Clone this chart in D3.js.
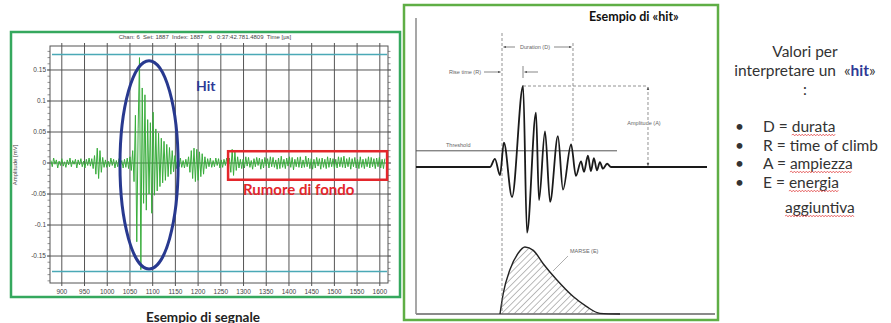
<!DOCTYPE html>
<html><head><meta charset="utf-8">
<script src="https://cdn.jsdelivr.net/npm/d3@7"></script>
<style>body{margin:0;background:#fff;} svg{display:block;}</style>
</head><body>
<svg id="c" width="891" height="323"></svg>
<script>
// ================= DATA =================
// Left chart: acoustic emission signal, sampled every 3 µs from 876 µs, amplitude in 0.001 mV
const signalStart = 876;
const signalStep = 3;
const signal = [
  4,-6,8,-2,5,-8,3,-4,7,-5,          // 876-903
  2,-7,5,-3,8,-6,4,-2,6,-8,          // 906-933
  5,-3,7,-6,3,-8,6,-4,8,-5,          // 936-963
  7,-9,12,-18,24,-25,20,-15,9,-7,    // 966-993
  5,-7,3,-6,8,-4,6,-8,4,-6,          // 996-1023
  7,-5,4,-8,6,-7,8,-9,10,-12,        // 1026-1053
  20,-30,77,-127,55,170,-172,121,-65,110, // 1056-1083
  -76,70,-50,65,-81,82,-52,55,-45,48,     // 1086-1113
  -38,40,-32,35,-28,30,-22,25,-18,20,     // 1116-1143
  -14,12,-9,7,-6,8,-7,4,-8,6,        // 1146-1173
  -6,10,-15,20,-25,24,-30,22,-28,18, // 1176-1203
  -22,15,-18,10,-9,7,-6,8,-7,4,      // 1206-1233
  -6,8,-4,7,-8,5,-7,6,-4,8,          // 1236-1263
  -6,8,-15,22,-20,18,-12,10,-8,6,    // 1266-1293
  -9,6,-8,10,-5,9,-7,4,-10,7,        // 1296-1323
  -6,9,-4,8,-10,6,-8,9,-5,7,         // 1326-1353
  -8,10,-6,9,-7,5,-10,8,-9,11,       // 1356-1383
  -7,6,-9,8,-5,10,-7,9,-11,6,        // 1386-1413
  -6,9,-7,10,-8,5,-7,11,-6,8,        // 1416-1443
  -9,7,-10,6,-8,9,-5,7,-10,8,        // 1446-1473
  -7,6,-9,10,-7,8,-6,7,-9,6,         // 1476-1503
  -8,10,-6,9,-7,11,-8,7,-6,9,        // 1506-1533
  -10,7,-6,9,-8,6,-9,10,-7,6,        // 1536-1563
  -9,7,-6,10,-8,9,-6,7,-9,8,         // 1566-1593
  -6,9,-8,6,-9,7                     // 1596-1611
];
const xTicks = [900,950,1000,1050,1100,1150,1200,1250,1300,1350,1400,1450,1500,1550,1600];
const yTicks = [-150,-100,-50,0,50,100,150];
const yTickLabels = ["-0.15","-0.1","-0.05","0","0.05","0.1","0.15"];
const thresholdLevels = [175,-175];
const hitRegion = {t0:1028, t1:1156, a0:-171, a1:165};
const noiseRegion = {t0:1266, t1:1616, a0:-27, a1:19};
const chartTitle = "Chan: 6  Set: 1887  Index: 1887   0   0:37:42.781.4809  Time [µs]";
const yAxisTitle = "Amplitude [mV]";

// Right diagram: idealised hit waveform (time 0-100, amplitude relative to the peak)
const waveT = [0,24.7,26.3,28.0,29.3,32.0,35.7,37.0,40.0,41.0,43.0,44.7,47.3,49.0,51.7,53.3,55.0,56.0,57.3,58.3,59.3,60.3,61.3,62.3,63.7,65.0,97.0];
const waveA = [0,0,0.10,-0.10,0.30,-0.37,1.00,-0.81,0.67,-0.41,0.44,-0.43,0.38,-0.28,0.28,-0.11,0.07,-0.06,0.14,-0.05,0.11,-0.04,0.06,-0.02,0.04,0,0];
const thresholdA = 0.2;
const thresholdEndT = 67;
const durationT = [28.67, 52.33];
const peakT = 35.67;
const amplitudeMarkT = 77.33;
// MARSE energy envelope
const marseT = [28.0,29.1,31.3,34.1,36.3,39.1,42.4,46.9,52.4,56.9,61.3,68.0];
const marseE = [0,0.31,0.66,0.91,1.0,0.95,0.75,0.51,0.26,0.11,0.01,0];

const bulletLines = [
  {key:"D = ", word:"durata", wavy:true},
  {key:"R = ", word:"time of climb", wavy:false},
  {key:"A = ", word:"ampiezza", wavy:true},
  {key:"E = ", word:"energia", wavy:true}
];

// ================= DRAW =================
const svg = d3.select('#c');
const defs = svg.append('defs');
defs.append('marker').attr('id','arr').attr('viewBox','0 0 10 10').attr('refX',9).attr('refY',5)
  .attr('markerWidth',4).attr('markerHeight',4).attr('orient','auto-start-reverse')
  .append('path').attr('d','M0,1 L10,5 L0,9 z').attr('fill','#555');
const pat = defs.append('pattern').attr('id','hatch').attr('patternUnits','userSpaceOnUse')
  .attr('width',4.5).attr('height',4.5).attr('patternTransform','rotate(45)');
pat.append('line').attr('x1',0).attr('y1',0).attr('x2',0).attr('y2',4.5).attr('stroke','#777').attr('stroke-width',1);

// ---------- Left panel ----------
svg.append('rect').attr('x',11).attr('y',32).attr('width',389).attr('height',265)
  .attr('fill','none').attr('stroke','#35a85e').attr('stroke-width',2.5);

const x = d3.scaleLinear().domain([874,1618]).range([50,388]);
const y = d3.scaleLinear().domain([-193.5,188.7]).range([283,46]);
const gL = svg.append('g');
const gridC = '#555';
xTicks.forEach(t => gL.append('line').attr('x1',x(t)).attr('x2',x(t)).attr('y1',43).attr('y2',286)
  .attr('stroke',gridC).attr('stroke-width',1));
yTicks.forEach(v => gL.append('line').attr('x1',47).attr('x2',391).attr('y1',y(v)).attr('y2',y(v))
  .attr('stroke',gridC).attr('stroke-width',1));
y.ticks(40).forEach(v => {
  gL.append('line').attr('x1',47.5).attr('x2',50).attr('y1',y(v)).attr('y2',y(v)).attr('stroke','#666').attr('stroke-width',0.7);
  gL.append('line').attr('x1',388).attr('x2',390.5).attr('y1',y(v)).attr('y2',y(v)).attr('stroke','#666').attr('stroke-width',0.7);
});
gL.append('rect').attr('x',50).attr('y',46).attr('width',338).attr('height',237)
  .attr('fill','none').attr('stroke',gridC).attr('stroke-width',1);

const tickFont = '"Liberation Sans", Arial, sans-serif';
xTicks.forEach(t => gL.append('text').attr('x',x(t)).attr('y',294).attr('text-anchor','middle')
  .attr('font-family',tickFont).attr('font-size',6.5).attr('fill','#444').text(t));
yTicks.forEach((v,i) => gL.append('text').attr('x',46).attr('y',y(v)).attr('dy','0.35em').attr('text-anchor','end')
  .attr('font-family',tickFont).attr('font-size',6.5).attr('fill','#444').text(yTickLabels[i]));
gL.append('text').attr('x',205).attr('y',38.5).attr('text-anchor','middle').attr('xml:space','preserve')
  .attr('font-family',tickFont).attr('font-size',6).attr('fill','#444').text(chartTitle);
gL.append('text').attr('transform','translate(17,165) rotate(-90)').attr('text-anchor','middle')
  .attr('font-family',tickFont).attr('font-size',6).attr('fill','#444').text(yAxisTitle);

thresholdLevels.forEach(v => gL.append('line').attr('x1',52).attr('x2',387).attr('y1',y(v)).attr('y2',y(v))
  .attr('stroke','#4aa9b6').attr('stroke-width',1.6));

gL.append('path').datum(signal)
  .attr('d', d3.line().x((d,i)=>x(signalStart+i*signalStep)).y(d=>y(d)))
  .attr('fill','none').attr('stroke','#39ad3c').attr('stroke-width',1);

// Hit ellipse
gL.append('ellipse')
  .attr('cx',(x(hitRegion.t0)+x(hitRegion.t1))/2).attr('cy',(y(hitRegion.a0)+y(hitRegion.a1))/2)
  .attr('rx',(x(hitRegion.t1)-x(hitRegion.t0))/2).attr('ry',(y(hitRegion.a0)-y(hitRegion.a1))/2)
  .attr('fill','none').attr('stroke','#28398f').attr('stroke-width',3);
gL.append('text').attr('x',196).attr('y',91).attr('font-family','Lato, sans-serif').attr('font-weight','bold')
  .attr('font-size',14).attr('fill','#2e3a96').text('Hit');

// Noise box
gL.append('rect').attr('x',x(noiseRegion.t0)).attr('y',y(noiseRegion.a1))
  .attr('width',x(noiseRegion.t1)-x(noiseRegion.t0)).attr('height',y(noiseRegion.a0)-y(noiseRegion.a1))
  .attr('fill','none').attr('stroke','#e3262b').attr('stroke-width',2.5);
gL.append('text').attr('x',243).attr('y',195).attr('font-family','Lato, sans-serif').attr('font-weight','bold')
  .attr('font-size',15).attr('fill','#e3262b').text('Rumore di fondo');

svg.append('text').attr('x',203).attr('y',321.5).attr('text-anchor','middle').attr('font-family','Lato, sans-serif')
  .attr('font-weight','bold').attr('font-size',13.5).attr('fill','#222').text('Esempio di segnale');

// ---------- Right panel ----------
svg.append('rect').attr('x',404).attr('y',5).attr('width',314).attr('height',315)
  .attr('fill','none').attr('stroke','#5fae45').attr('stroke-width',2.5);
const xw = d3.scaleLinear().domain([0,100]).range([416,716]);
const yw = d3.scaleLinear().domain([-1,1]).range([248,86]);
const ye = d3.scaleLinear().domain([0,1]).range([314,247]);
const gR = svg.append('g');
gR.append('line').attr('x1',416).attr('x2',416).attr('y1',18).attr('y2',314).attr('stroke','#8a8a8a').attr('stroke-width',1.5);
gR.append('line').attr('x1',416).attr('x2',715).attr('y1',314).attr('y2',314).attr('stroke','#8a8a8a').attr('stroke-width',1.8);
gR.append('text').attr('x',589).attr('y',21).attr('font-family','Lato, sans-serif').attr('font-weight','bold')
  .attr('font-size',12.5).attr('fill','#111').text('Esempio di «hit»');

const smallFont = {fam:'"Liberation Sans", Arial, sans-serif', size:5.5, fill:'#666'};
function small(g, xx, yy, txt, anchor){
  return g.append('text').attr('x',xx).attr('y',yy).attr('text-anchor',anchor||'start')
    .attr('font-family',smallFont.fam).attr('font-size',smallFont.size).attr('fill',smallFont.fill).text(txt);
}
const dash = (sel)=>sel.attr('stroke','#777').attr('stroke-width',0.8).attr('stroke-dasharray','3,2').attr('fill','none');

// MARSE area
const marse = marseT.map((t,i)=>({t, e:marseE[i]}));
gR.append('path').datum(marse)
  .attr('d', d3.area().x(d=>xw(d.t)).y0(ye(0)).y1(d=>ye(d.e)).curve(d3.curveMonotoneX))
  .attr('fill','url(#hatch)');
gR.append('path').datum(marse)
  .attr('d', d3.line().x(d=>xw(d.t)).y(d=>ye(d.e)).curve(d3.curveMonotoneX))
  .attr('fill','none').attr('stroke','#222').attr('stroke-width',1.4);
gR.append('line').attr('x1',568).attr('y1',256).attr('x2',553).attr('y2',271).attr('stroke','#777').attr('stroke-width',0.6);
small(gR, 570, 253, 'MARSE (E)');

// Threshold
gR.append('line').attr('x1',xw(0)).attr('x2',xw(thresholdEndT)).attr('y1',yw(thresholdA)).attr('y2',yw(thresholdA))
  .attr('stroke','#555').attr('stroke-width',1);
small(gR, 446, 147, 'Threshold');

// Dashed guides
dash(gR.append('line').attr('x1',xw(durationT[0])).attr('x2',xw(durationT[0])).attr('y1',33).attr('y2',ye(0)));
dash(gR.append('line').attr('x1',xw(durationT[1])).attr('x2',xw(durationT[1])).attr('y1',43).attr('y2',yw(0.3)));
dash(gR.append('line').attr('x1',xw(peakT)).attr('x2',xw(amplitudeMarkT)).attr('y1',yw(1)).attr('y2',yw(1)));
dash(gR.append('line').attr('x1',xw(amplitudeMarkT)).attr('x2',xw(amplitudeMarkT)).attr('y1',yw(1)+1).attr('y2',yw(0)-1))
  .attr('marker-start','url(#arr)').attr('marker-end','url(#arr)');
const ampLbl = small(gR, 644, 125, 'Amplitude (A)', 'middle');
const bb = ampLbl.node().getBBox();
gR.insert('rect', () => ampLbl.node()).attr('x',bb.x-1).attr('y',bb.y).attr('width',bb.width+2).attr('height',bb.height).attr('fill','#fff');

// Duration
const dY = 47;
gR.append('line').attr('x1',515).attr('x2',xw(durationT[0])+1.5).attr('y1',dY).attr('y2',dY)
  .attr('stroke','#555').attr('stroke-width',0.7).attr('marker-end','url(#arr)');
small(gR, 535, dY+2, 'Duration (D)', 'middle');
gR.append('line').attr('x1',554).attr('x2',xw(durationT[1])-1.5).attr('y1',dY).attr('y2',dY)
  .attr('stroke','#555').attr('stroke-width',0.7).attr('marker-end','url(#arr)');

// Rise time
const rY = 72;
small(gR, 481, rY+2, 'Rise time (R)', 'end');
gR.append('line').attr('x1',484).attr('x2',xw(durationT[0])-1.5).attr('y1',rY).attr('y2',rY)
  .attr('stroke','#555').attr('stroke-width',0.7).attr('marker-end','url(#arr)');
gR.append('line').attr('x1',xw(peakT)).attr('x2',xw(peakT)).attr('y1',66).attr('y2',78).attr('stroke','#555').attr('stroke-width',0.7);
gR.append('line').attr('x1',538).attr('x2',xw(peakT)+1.5).attr('y1',rY).attr('y2',rY)
  .attr('stroke','#555').attr('stroke-width',0.7).attr('marker-end','url(#arr)');

// Waveform
const wave = waveT.map((t,i)=>({t, a:waveA[i]}));
gR.append('path').datum(wave)
  .attr('d', d3.line().x(d=>xw(d.t)).y(d=>yw(d.a)).curve(d3.curveMonotoneX))
  .attr('fill','none').attr('stroke','#1a1a1a').attr('stroke-width',1.8);

// ---------- Right text ----------
const gT = svg.append('g').attr('font-family','Lato, sans-serif').attr('font-size',15.5).attr('fill','#333');
gT.append('text').attr('x',805).attr('y',57).attr('text-anchor','middle').text('Valori per');
const t2 = gT.append('text').attr('x',805).attr('y',76).attr('text-anchor','middle');
t2.append('tspan').text('interpretare un \u00a0«');
t2.append('tspan').attr('font-weight','bold').attr('fill','#2e3a96').text('hit');
t2.append('tspan').text('»');
gT.append('text').attr('x',805).attr('y',95).attr('text-anchor','middle').text(':');

const lineYs = [132,151,169,188];
function wavy(x0, x1, yy){
  let d = `M${x0},${yy}`; let up = true;
  for(let xx = x0+1.5; xx <= x1; xx += 1.5){ d += ` L${xx},${yy + (up?-0.9:0.9)}`; up = !up; }
  gT.append('path').attr('d',d).attr('fill','none').attr('stroke','#e03a3a').attr('stroke-width',0.7);
}
bulletLines.forEach((b,i) => {
  gT.append('text').attr('x',735).attr('y',lineYs[i]).text('•');
  const t = gT.append('text').attr('x',763).attr('y',lineYs[i]).text(b.key + b.word);
  if (b.wavy) {
    const n = t.node(); const s = b.key.length;
    const x0 = n.getStartPositionOfChar(s).x, x1 = n.getEndPositionOfChar(s + b.word.length - 1).x;
    wavy(x0, x1, lineYs[i] + 3);
  }
});
const ag = gT.append('text').attr('x',785).attr('y',213).text('aggiuntiva');
{ const n = ag.node(); wavy(785, 785 + n.getComputedTextLength(), 216); }
</script>
</body></html>
